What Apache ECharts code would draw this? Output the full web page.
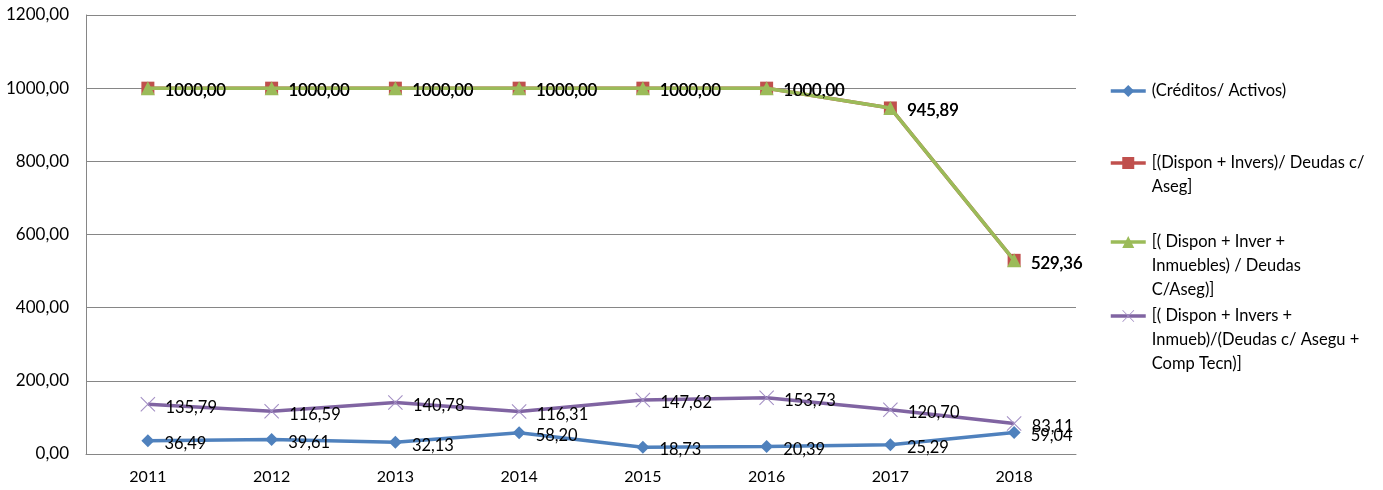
<!DOCTYPE html>
<html>
<head>
<meta charset="utf-8">
<script src="https://cdn.jsdelivr.net/npm/echarts@6/dist/echarts.min.js"></script>
<style>
html,body{margin:0;padding:0;background:#fff;}
#c{width:1383px;height:490px;}
</style>
</head>
<body>
<div id="c"></div>
<script>
var categories = ['2011','2012','2013','2014','2015','2016','2017','2018'];
var seriesNames = [
  '(Créditos/ Activos)',
  '[(Dispon + Invers)/ Deudas c/ Aseg]',
  '[( Dispon + Inver + Inmuebles) / Deudas C/Aseg)]',
  '[( Dispon + Invers + Inmueb)/(Deudas c/ Asegu + Comp Tecn)]'
];
var legendLines = [
  ['(Créditos/ Activos)'],
  ['[(Dispon + Invers)/ Deudas c/', 'Aseg]'],
  ['[( Dispon + Inver +', 'Inmuebles) / Deudas', 'C/Aseg)]'],
  ['[( Dispon + Invers +', 'Inmueb)/(Deudas c/ Asegu +', 'Comp Tecn)]']
];
var creditosActivos = [36.49, 39.61, 32.13, 58.20, 18.73, 20.39, 25.29, 59.04];
var disponInversDeudas = [1000.00, 1000.00, 1000.00, 1000.00, 1000.00, 1000.00, 945.89, 529.36];
var disponInverInmuebles = [1000.00, 1000.00, 1000.00, 1000.00, 1000.00, 1000.00, 945.89, 529.36];
var disponInversInmuebComp = [135.79, 116.59, 140.78, 116.31, 147.62, 153.73, 120.70, 83.11];
var yTicks = {min: 0, max: 1200, interval: 200};

var FONT = 'Lato';
function fmt(v){ return Number(v).toFixed(2).replace('.', ','); }

var colors = ['#4F81BD', '#C0504D', '#9BBB59', '#8064A2'];
var xPath = 'path://M0,1L1,0L10,9L19,0L20,1L11,10L20,19L19,20L10,11L1,20L0,19L9,10Z';
var symbols = ['diamond', 'rect', 'triangle', xPath];
var symbolSizes = [13, 13, 14, 15];
var symbolColors = ['#4F81BD', '#C0504D', '#9BBB59', '#A38FC4'];
var dataSets = [creditosActivos, disponInversDeudas, disponInverInmuebles, disponInversInmuebComp];

var LH = 24;
var firstLineY = [91, 163, 242, 316];
var legends = seriesNames.map(function(name, i){
  var n = legendLines[i].length;
  var blank = [];
  for (var k = 0; k < n - 1; k++) blank.push('');
  var txt = blank.concat(legendLines[i]).join('\n');
  return {
    show: true,
    orient: 'vertical',
    left: 1109,
    top: firstLineY[i] - (2 * n - 1) * LH / 2,
    padding: 0,
    itemWidth: 35,
    itemHeight: 15,
    itemGap: 0,
    data: [name],
    selectedMode: false,
    lineStyle: {width: 3.5},
    textStyle: {fontFamily: FONT, fontSize: 16.5, color: '#000', lineHeight: LH, padding: [0,0,0,1]},
    formatter: function(){ return txt; }
  };
});

var series = seriesNames.map(function(name, i){
  return {
    name: name,
    type: 'line',
    data: dataSets[i],
    symbol: symbols[i],
    symbolSize: symbolSizes[i],
    showAllSymbol: true,
    lineStyle: {color: colors[i], width: 3.5},
    itemStyle: {color: symbolColors[i], borderWidth: 0},
    label: {
      show: true,
      position: 'right',
      distance: 10,
      offset: [0, 3],
      formatter: function(p){ return fmt(p.value); },
      fontFamily: FONT,
      fontSize: 16.5,
      color: '#000'
    },
    emphasis: {disabled: true},
    animation: false,
    z: 2 + i
  };
});

var chart = echarts.init(document.getElementById('c'), null, {renderer: 'canvas'});
chart.setOption({
  backgroundColor: '#fff',
  animation: false,
  color: colors,
  legend: legends,
  grid: {left: 86, right: 307, top: 15, bottom: 36, containLabel: false},
  xAxis: {
    type: 'category',
    data: categories,
    boundaryGap: true,
    axisLine: {show: true, lineStyle: {color: '#868686', width: 1}},
    axisTick: {show: false},
    axisLabel: {fontFamily: FONT, fontSize: 16, color: '#000', margin: 15}
  },
  yAxis: {
    type: 'value',
    min: yTicks.min,
    max: yTicks.max,
    interval: yTicks.interval,
    axisLine: {show: true, lineStyle: {color: '#868686', width: 1}},
    axisTick: {show: false},
    splitLine: {show: true, lineStyle: {color: '#868686', width: 1}},
    axisLabel: {fontFamily: FONT, fontSize: 17, color: '#000', margin: 17, formatter: function(v){ return fmt(v); }}
  },
  series: series
});
</script>
</body>
</html>
